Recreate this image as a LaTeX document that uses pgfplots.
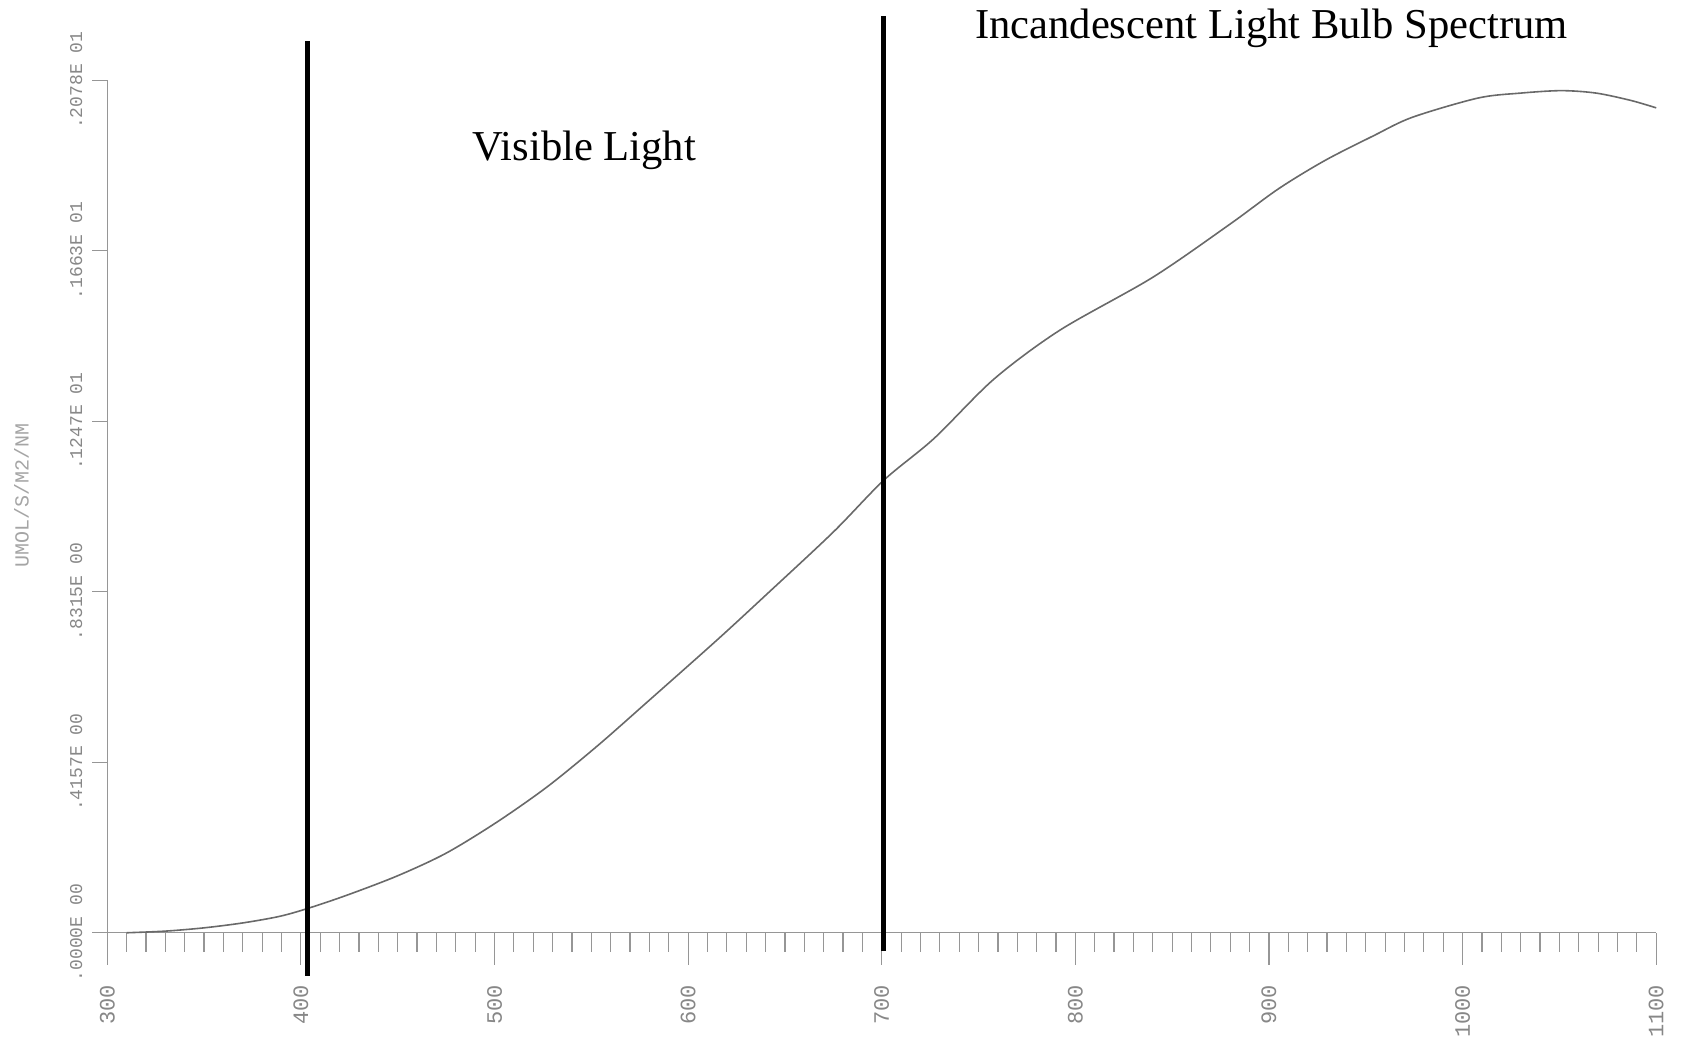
\documentclass[border=0pt]{standalone}
\usepackage{pgfplots}
\pgfplotsset{compat=1.18}
\usepackage{fontspec}
\setmainfont{Liberation Serif}
\setmonofont{Liberation Mono}

\definecolor{axisgray}{RGB}{150,150,150}
\definecolor{labelgray}{RGB}{135,135,135}
\definecolor{ylabgray}{RGB}{165,165,165}
\definecolor{curvegray}{RGB}{105,105,105}

\pgfplotsset{
  specframe/.style={
    scale only axis, width=774.5pt, height=426.2pt,
    xmin=300, xmax=1100, ymin=0, ymax=2.078,
    clip=false,
  },
}

\begin{document}
\begin{tikzpicture}
% vertical (irradiance) axis with its own, shorter ticks
\begin{axis}[specframe,
  axis x line=none, axis y line=left,
  y axis line style={-, axisgray, line width=0.6pt},
  ytick={0,0.4157,0.8315,1.247,1.663,2.078},
  yticklabels={.0000E 00,.4157E 00,.8315E 00,.1247E 01,.1663E 01,.2078E 01},
  minor y tick num=9,
  tick align=outside,
  major tick length=7.5pt, minor tick length=2.5pt,
  ytick style={axisgray, line width=0.6pt},
  yticklabel shift=1.5pt,
  yticklabel style={rotate=90, anchor=south,
    font=\ttfamily\fontsize{9}{9}\selectfont, text=labelgray},
]
\node[rotate=90, font=\ttfamily\fontsize{10}{10}\selectfont, text=ylabgray]
  at (axis cs:255.7,1.067) {UMOL/S/M2/NM};
\end{axis}

% wavelength axis, spectrum and the visible band markers
\begin{axis}[specframe,
  axis y line=none, axis x line=bottom,
  x axis line style={-, axisgray, line width=0.6pt},
  xtick={300,400,500,600,700,800,900,1000,1100},
  xticklabels={300,400,500,600,700,800,900,1000,1100},
  minor x tick num=9,
  tick align=outside,
  major tick length=16pt, minor tick length=9.5pt,
  xtick style={axisgray, line width=0.6pt},
  xticklabel shift=6.5pt,
  xticklabel style={rotate=90, anchor=east,
    font=\ttfamily\fontsize{11}{11}\selectfont, text=labelgray},
]
% page extent
\path (axis cs:244.6,-0.2797) (axis cs:1112.8,2.274);

\addplot[curvegray, line width=0.8pt, smooth, tension=0.5] coordinates {
(310,0.000) (330,0.004) (350,0.012) (370,0.024) (389,0.040) (404,0.060)
(424,0.092) (450,0.139) (475,0.194) (501,0.269) (527,0.355) (553,0.455)
(579,0.563) (615,0.714) (641,0.827) (675,0.977) (701,1.103) (727,1.205)
(758,1.350) (792,1.469) (840,1.598) (880,1.728) (905,1.814) (929,1.883)
(954,1.943) (974,1.988) (1008,2.035) (1030,2.047) (1051,2.053) (1069,2.047)
(1087,2.029) (1100,2.011)
};

\addplot[black, line width=2.2pt] coordinates {(403.5,-0.105) (403.5,2.175)};
\addplot[black, line width=2.2pt] coordinates {(700.9,-0.044) (700.9,2.235)};

\node[font=\fontsize{21.3}{25}\selectfont] at (axis cs:546.4,1.908) {Visible Light};
\node[font=\fontsize{21.3}{25}\selectfont] at (axis cs:901.3,2.205) {Incandescent Light Bulb Spectrum};
\end{axis}
\end{tikzpicture}
\end{document}
